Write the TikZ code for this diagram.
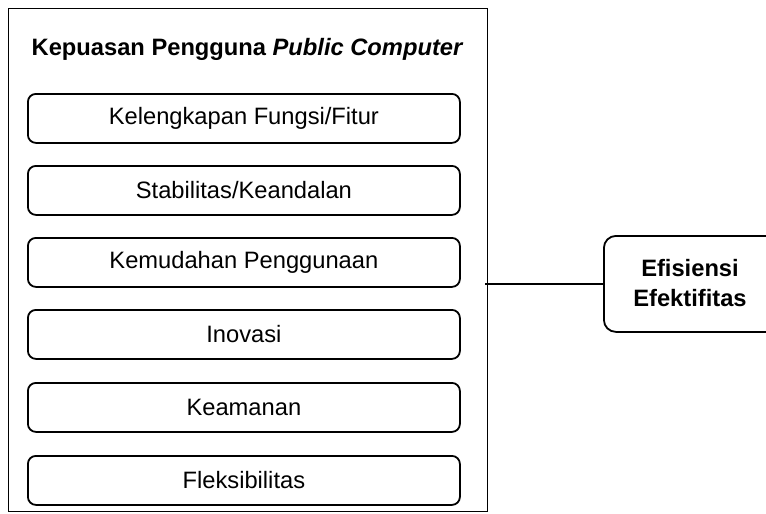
\documentclass[tikz,border=0pt]{standalone}
\usepackage{fontspec}
\setmainfont{Liberation Sans}
\begin{document}
\begin{tikzpicture}[x=1pt,y=-1pt,
  txt/.style={font=\fontsize{23.7}{30}\selectfont},
  itembox/.style={draw, line width=1.8pt, rounded corners=8pt, minimum width=432pt,
    minimum height=49pt, inner sep=0pt, anchor=north west, txt},
  framebox/.style={draw, line width=1.3pt, inner sep=0pt, anchor=north west},
  resultbox/.style={draw, line width=1.8pt, rounded corners=12pt, minimum width=190pt,
    minimum height=96pt, inner sep=0pt, anchor=north west},
  link/.style={line width=1.3pt}]
\useasboundingbox (0,0) rectangle (766,514);
\clip (0,0) rectangle (766,514);
\fill[white] (0,0) rectangle (766,514);

% outer frame
\node[framebox, minimum width=479pt, minimum height=503pt] (outer) at (8,8) {};

% heading
\node[txt, anchor=base, inner sep=0pt] (title) at (247,55)
  {\bfseries Kepuasan Pengguna \itshape Public Computer};

% criteria
\node[itembox] (k1) at (27,93)  {Kelengkapan Fungsi/Fitur};
\node[itembox] (k2) at (27,165) {Stabilitas/Keandalan};
\node[itembox] (k3) at (27,237) {Kemudahan Penggunaan};
\node[itembox] (k4) at (27,309) {Inovasi};
\node[itembox] (k5) at (27,382) {Keamanan};
\node[itembox] (k6) at (27,455) {Fleksibilitas};

% result box, partly beyond the right edge
\node[resultbox] (eff) at (603,235) {};
\node[txt, align=center, inner sep=0pt] (efflabel) at (690,283)
  {\bfseries Efisiensi\\\bfseries Efektifitas};

% connector
\draw[link] ([xshift=-3pt]outer.east |- eff.west) -- (eff.west);
\end{tikzpicture}
\end{document}
